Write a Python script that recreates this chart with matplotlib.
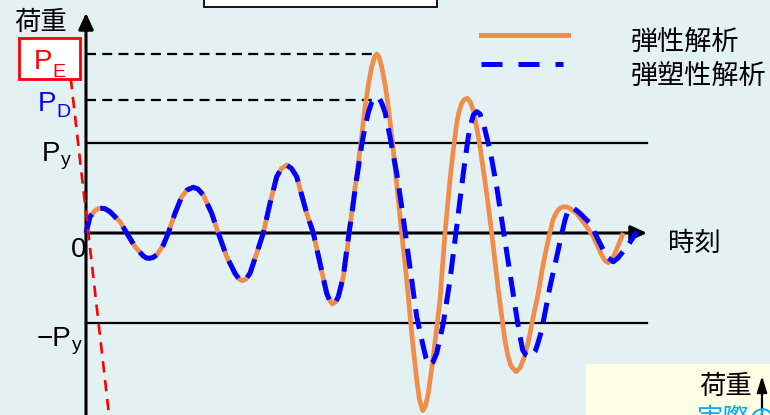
import matplotlib
matplotlib.use('Agg')
import matplotlib.pyplot as plt
from matplotlib.patches import Rectangle
from matplotlib.lines import Line2D

W, H = 770, 415
BG = '#E4F1F3'
ORANGE = '#F18D4B'
BLUE = '#0000FF'
RED = '#FF0000'
CJK = ['Noto Sans CJK JP', 'DejaVu Sans']
LAT = ['Liberation Sans', 'DejaVu Sans']

# ---- data (time in arbitrary units, load with Py = 90) ----
Py = 90
PD = 133
PE = 179

shared_t = [0, 4, 9, 12, 15.7, 19, 24, 34, 40.7, 49, 57.3, 60.5, 63.3, 67, 70.7, 77.3,
            82.3, 89, 95.7, 101, 107.3, 112, 117.3, 125.7, 132.3, 140.7, 149, 153,
            156.3, 160, 164, 170.7, 177.3, 184, 190.7, 195.5, 200.7, 205.5, 210.7,
            220.7, 227.3, 234, 240.7, 243.5, 246.3, 249.5, 252.3, 257.3]
shared_P = [0, 16.3, 22.3, 24.3, 24.7, 24.3, 21.3, 11.3, 0, -13.7, -23, -25, -25.3,
            -24.5, -22, -12, 0, 19.7, 36.3, 43, 45.7, 44, 38, 19.7, 0, -23.7, -40.3,
            -46, -47.7, -46, -40.3, -20.3, 0, 29.7, 56.3, 64.5, 68, 64.5, 56.3, 19.7,
            0, -30.3, -60.3, -67, -71, -69, -63.7, -43.7]

elastic_t = [260.7, 263, 266, 269, 272.3, 275.7, 279, 282.5, 285.7, 288.5, 290.7, 293,
             295.7, 299, 302.3, 307.3, 312.3, 315.7, 320.7, 325.7, 330.7, 333.5, 336.7,
             339.5, 342.3, 347.3, 354, 359, 364, 367.3, 370.7, 373.2, 375.7, 378.5,
             381.3, 384.3, 387.3, 390.6, 394, 400.7, 405.7, 412.3, 419, 422, 425, 430,
             434, 438, 442.3, 447, 452.3, 456.5, 460.7, 464, 467, 470, 473.5, 477.3, 481,
             484, 490.7, 500.7, 507.3, 515.7, 518.8, 522.3, 525.5, 529, 537.3]
elastic_P = [-22, 0, 22, 45, 69.7, 97, 126, 149, 166.3, 176, 179, 176, 166.3, 149, 126.3,
             83, 33, 0, -47, -100.3, -147, -167, -177.7, -173, -160.3, -123.7, -67, 0, 53,
             83, 109.7, 122, 129.7, 133.5, 134.7, 131, 123, 106, 86.3, 39.7, 0, -57, -108,
             -123, -133, -138.7, -135, -125, -109, -85, -60, -35, -14, 1, 13, 20, 24.5,
             26.3, 26, 24.5, 19.7, 6.3, -3.7, -22, -27.5, -29.7, -28, -20.3, 0]

plastic_t = [260.7, 263, 266, 269, 272.3, 275.7, 279, 282.5, 285.7, 288.5, 290.7, 293,
             295.7, 299, 304, 310.7, 315.7, 320.7, 325.7, 330.7, 337.3, 340, 343.3, 347,
             350.7, 357.3, 364, 370.7, 377.3, 382.3, 384.8, 387.3, 390.7, 394, 397.3, 404,
             410.7, 417.3, 424, 430.7, 433.7, 436.7, 440, 443.3, 446, 449, 452, 455.7, 464,
             471.5, 475, 479, 481.5, 484, 487, 490, 494, 504, 512.3, 520.7, 527.3, 531.5,
             535.7, 542.3, 550.7]
plastic_P = [-17, 0, 20, 43, 65, 88, 106, 121, 131, 135, 135.7, 135, 130, 121, 96.3, 59.7,
             26.3, -10.3, -47, -83.7, -113.7, -125, -132, -129, -120.3, -90.3, -47, 6.3,
             59.7, 96.3, 108.5, 118, 121.3, 119, 109.7, 83, 46.3, 3, -40.3, -83.7, -102,
             -117, -122, -123.7, -122.5, -118.7, -110, -97, -53.7, -20.3, -4, 13, 21, 24.7,
             25, 23, 19.7, 9.7, -7, -23.7, -28.7, -25.5, -20.3, -12, 1.3]

stiff_t = [-15.3, 23]      # initial-stiffness guide (red dashed)
stiff_P = [155, -182]

t_axis_end = 561
t_peak = 290.7

# ---- figure ----
fig = plt.figure(figsize=(W / 100, H / 100), dpi=100)
fig.patch.set_facecolor(BG)
ax = fig.add_axes([0, 0, 1, 1])
ax.set_facecolor(BG)
ax.set_xlim(-86, W - 86)
ax.set_ylim(-182, 233)
ax.axis('off')


def fx(x):
    return x / W


def fy(y):
    return 1 - y / H


# reference lines
ax.plot([0, t_axis_end], [Py, Py], color='black', lw=1.6, zorder=2)
ax.plot([0, t_axis_end], [-Py, -Py], color='black', lw=1.6, zorder=2)
ax.plot([0, t_peak], [PE, PE], color='black', lw=1.6, dashes=(4.5, 2.8), zorder=2)
ax.plot([0, t_peak - 5], [PD, PD], color='black', lw=1.6, dashes=(4.5, 2.8), zorder=2)

# axes with arrows
arrow_style = '-|>,head_length=0.65,head_width=0.3'
ax.annotate('', xy=(0, 220), xytext=(0, -200),
            arrowprops=dict(arrowstyle=arrow_style, lw=2.2, color='black',
                            mutation_scale=15, shrinkA=0, shrinkB=0), zorder=3)
ax.annotate('', xy=(t_axis_end, 0), xytext=(0, 0),
            arrowprops=dict(arrowstyle=arrow_style, lw=2.2, color='black',
                            mutation_scale=15, shrinkA=0, shrinkB=0), zorder=3)

# curves
ax.plot(shared_t + elastic_t, shared_P + elastic_P, color=ORANGE, lw=3.4,
        solid_joinstyle='round', solid_capstyle='butt', zorder=4)
ax.plot(shared_t + plastic_t, shared_P + plastic_P, color=BLUE, lw=3.6,
        dashes=(4, 2.1), dash_capstyle='butt', dash_joinstyle='round', zorder=5)

# red dashed stiffness line
ax.plot(stiff_t, stiff_P, color=RED, lw=1.9, dashes=(4.3, 2.9), zorder=6)

# PE box
ax.add_patch(Rectangle((-67, 154), 61, 41, facecolor='white', edgecolor=RED,
                       lw=2, zorder=7))

# white box at top
ax.add_patch(Rectangle((118, 225.7), 233, 30, facecolor='white', edgecolor='black',
                       lw=1.3, zorder=7, clip_on=False))

# yellow box bottom right
ax.add_patch(Rectangle((500, -200), 200, 69, facecolor='#FFFFE6', edgecolor='none',
                       zorder=7))
ax.annotate('', xy=(676, -143), xytext=(676, -200),
            arrowprops=dict(arrowstyle='-|>,head_length=0.8,head_width=0.25', lw=1.6,
                            color='black', mutation_scale=12, shrinkA=0, shrinkB=0),
            zorder=8)

# legend
fig.add_artist(Line2D([fx(481), fx(568)], [fy(35), fy(35)], color=ORANGE, lw=3.6))
fig.add_artist(Line2D([fx(481), fx(563)], [fy(64), fy(64)], color=BLUE, lw=3.6,
                      dashes=(4.2, 3.2), dash_capstyle='butt'))
fig.text(fx(631), fy(42), '弾性解析', family=CJK, size=19.5, va='center', ha='left')
fig.text(fx(631), fy(76), '弾塑性解析', family=CJK, size=19.5, va='center', ha='left')

# labels
fig.text(fx(14), fy(22), '荷重', family=CJK, size=19, va='center', ha='left')
fig.text(fx(668), fy(243), '時刻', family=CJK, size=19, va='center', ha='left')
fig.text(fx(699), fy(386), '荷重', family=CJK, size=19, va='center', ha='left', zorder=9)
fig.text(fx(697), fy(406), '実際の', family=CJK, size=19, va='top', ha='left',
         color='#00AEEF', zorder=9)

txt = dict(family=LAT, va='baseline', ha='left')
fig.text(fx(34), fy(69), 'P', color=RED, size=20, zorder=9, **txt)
fig.text(fx(52), fy(77), 'E', color=RED, size=14, zorder=9, **txt)
fig.text(fx(38), fy(111), 'P', color=BLUE, size=20, **txt)
fig.text(fx(56), fy(117), 'D', color=BLUE, size=14, **txt)
fig.text(fx(42), fy(161), 'P', color='black', size=20, **txt)
fig.text(fx(61), fy(165), 'y', color='black', size=14, **txt)
fig.text(fx(86), fy(257), '0', color='black', size=20, family=LAT, va='baseline', ha='right')
fig.text(fx(37), fy(346), '−P', color='black', size=20, **txt)
fig.text(fx(72), fy(350), 'y', color='black', size=14, **txt)

fig.savefig('out.png', dpi=100, facecolor=BG)
